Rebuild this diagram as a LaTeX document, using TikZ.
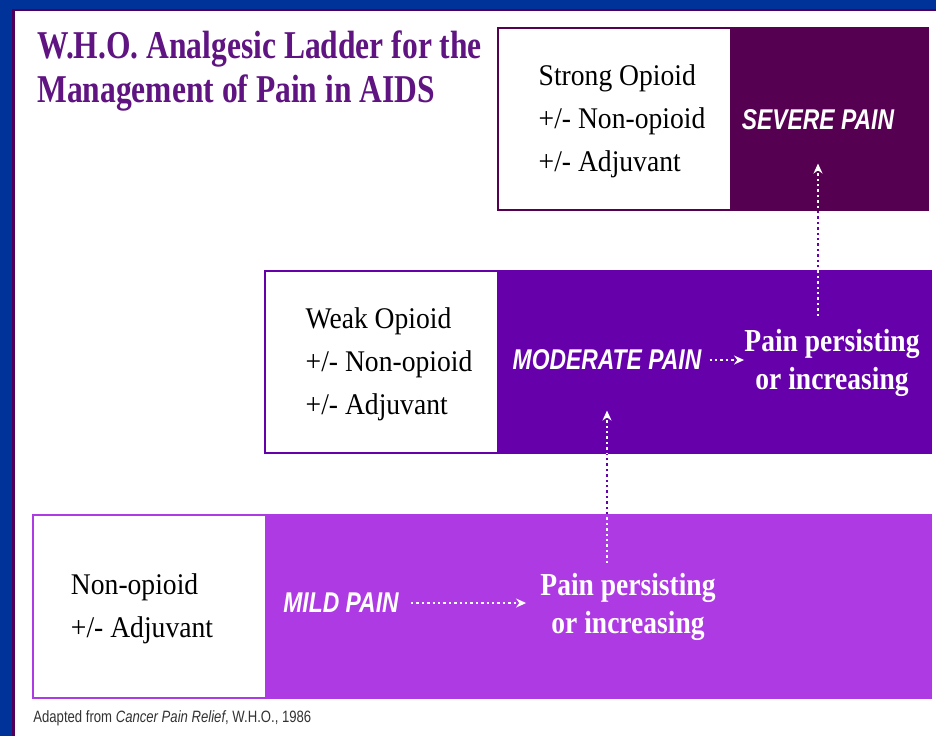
\documentclass[tikz,border=0pt]{standalone}
\usepackage{fontspec}
\setmainfont{Liberation Serif}
\setsansfont{Liberation Sans}
\newfontfamily\ttlfont[FakeStretch=0.8]{Liberation Serif}
\newfontfamily\drugfont[FakeStretch=0.92]{Liberation Serif}
\newfontfamily\persfont[FakeStretch=0.86]{Liberation Serif}
\newfontfamily\painfont[FakeStretch=0.8]{Liberation Sans}
\newfontfamily\notefont[FakeStretch=0.8]{Liberation Sans}
\usetikzlibrary{positioning,arrows.meta}

\definecolor{frameblue}{RGB}{0,51,153}
\definecolor{frameline}{RGB}{80,0,90}
\definecolor{ttlpurple}{RGB}{95,20,130}
\definecolor{severe}{RGB}{85,0,80}
\definecolor{moderate}{RGB}{102,0,170}
\definecolor{mild}{RGB}{173,58,227}

\begin{document}
\begin{tikzpicture}[x=0.5pt, y=-0.5pt,
  ttl/.style={font=\ttlfont\bfseries\fontsize{19.7}{22}\selectfont, text=ttlpurple,
              align=left, inner sep=0pt, anchor=north west},
  drug/.style={font=\drugfont\fontsize{15}{21.5}\selectfont, align=left, inner sep=0pt},
  pain/.style={font=\painfont\bfseries\itshape\fontsize{14.3}{16}\selectfont, text=white, inner sep=0pt},
  persist/.style={font=\persfont\bfseries\fontsize{16}{19}\selectfont, text=white, align=center, inner sep=0pt},
  flow/.style={draw=white, line width=1.3pt, dash pattern=on 1.2pt off 1.5pt,
               -{Stealth[length=5pt,width=4.5pt]}},
  note/.style={font=\notefont\fontsize{8.2}{10}\selectfont, text=black!80, anchor=west, inner sep=0pt}
]
\useasboundingbox[fill=white] (0,0) rectangle (936,736);

% frame
\fill[frameblue] (0,0) rectangle (936,9);
\fill[frameblue] (0,0) rectangle (12,736);
\fill[frameline] (12,9) rectangle (936,11);
\fill[frameline] (12,11) rectangle (14.5,736);

% ladder steps
\filldraw[fill=white, draw=severe, line width=0.8pt] (498,28) rectangle (928,210);
\fill[severe] (730,28) rectangle (928,210);
\filldraw[fill=white, draw=moderate, line width=0.8pt] (265,271) rectangle (931,453);
\fill[moderate] (497,271) rectangle (931,453);
\filldraw[fill=white, draw=mild, line width=0.8pt] (33,515) rectangle (931,698);
\fill[mild] (265,515) rectangle (931,698);

\node[ttl] (title) at (37,30) {W.H.O. Analgesic Ladder for the\\Management of Pain in AIDS};

\node[drug] (strong) at (622,121) {Strong Opioid\\+/- Non-opioid\\+/- Adjuvant};
\node[drug] (weak)   at (389,364) {Weak Opioid\\+/- Non-opioid\\+/- Adjuvant};
\node[drug] (nonop)  at (142,609) {Non-opioid\\+/- Adjuvant};

\node[pain] (sev)  at (818,120) {SEVERE PAIN};
\node[pain] (mod)  at (607,360) {MODERATE PAIN};
\node[pain] (mild) at (341,603) {MILD PAIN};

\node[persist] (modp)  at (832,363) {Pain persisting\\or increasing};
\node[persist] (mildp) at (628,607) {Pain persisting\\or increasing};

\draw[flow] ([xshift=6pt]mild.east) -- ([xshift=-7pt]mild.east -| mildp.west);
\draw[flow] ([xshift=4pt]mod.east) -- (mod.east -| modp.west);
\draw[flow] ([yshift=5pt]mod.south |- mildp.north) -- ([yshift=-20pt]mod.south);
\draw[flow] ([yshift=6.5pt]sev.south |- modp.north) -- ([yshift=-16.5pt]sev.south);

% dots in the white gaps
\begin{scope}
  \clip (0,211) rectangle (936,270) (0,454) rectangle (936,514);
  \draw[flow, draw=moderate] ([yshift=5pt]mod.south |- mildp.north) -- ([yshift=-20pt]mod.south);
  \draw[flow, draw=moderate] ([yshift=6.5pt]sev.south |- modp.north) -- ([yshift=-16.5pt]sev.south);
\end{scope}

\node[note] (src) at (33,718) {Adapted from \textit{Cancer Pain Relief}, W.H.O., 1986};
\end{tikzpicture}
\end{document}
